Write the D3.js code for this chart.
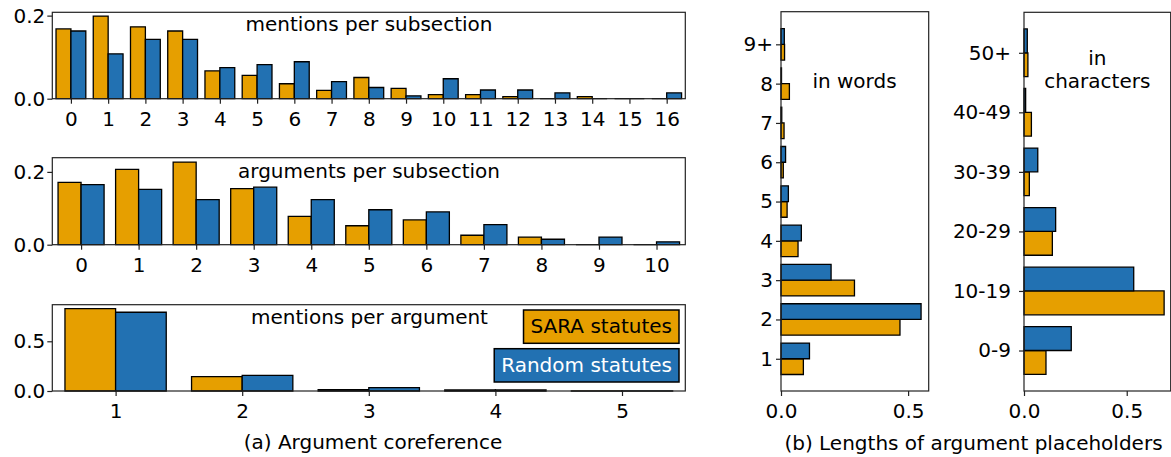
<!DOCTYPE html>
<html>
<head>
<meta charset="utf-8">
<script src="https://cdn.jsdelivr.net/npm/d3@7"></script>
<style>
  body { margin: 0; background: #fff; }
  svg text { font-family: "DejaVu Sans", sans-serif; font-size: 20px; fill: #000; }
  .frame { fill: none; stroke: #222; stroke-width: 1.2; }
  .bar { stroke: #000; stroke-width: 1.3; }
  .axis .domain { display: none; }
  .axis line { stroke: #222; stroke-width: 1.2; }
</style>
</head>
<body>
<div id="chart"></div>
<script>
// (a) Argument coreference -- relative frequencies
const mentionsSubCats = d3.range(0, 17);
const mentionsSubSara = [0.168, 0.199, 0.173, 0.163, 0.067, 0.056, 0.036, 0.020, 0.051, 0.025, 0.010, 0.010, 0.005, 0.000, 0.005, 0.000, 0.000];
const mentionsSubRand = [0.163, 0.108, 0.143, 0.143, 0.075, 0.082, 0.089, 0.041, 0.027, 0.007, 0.048, 0.021, 0.021, 0.014, 0.000, 0.000, 0.014];

const argsSubCats = d3.range(0, 11);
const argsSubSara = [0.171, 0.207, 0.227, 0.154, 0.078, 0.052, 0.068, 0.026, 0.021, 0.000, 0.000];
const argsSubRand = [0.165, 0.152, 0.124, 0.158, 0.124, 0.096, 0.090, 0.055, 0.015, 0.021, 0.008];

const mentionsArgCats = [1, 2, 3, 4, 5];
const mentionsArgSara = [0.829, 0.144, 0.013, 0.010, 0.002];
const mentionsArgRand = [0.792, 0.158, 0.034, 0.010, 0.002];

// (b) Lengths of argument placeholders
const wordLabels = ["1", "2", "3", "4", "5", "6", "7", "8", "9+"];
const wordSara = [0.088, 0.468, 0.289, 0.067, 0.024, 0.009, 0.012, 0.033, 0.014];
const wordRand = [0.112, 0.551, 0.197, 0.080, 0.029, 0.018, 0.003, 0.002, 0.013];

const charLabels = ["0-9", "10-19", "20-29", "30-39", "40-49", "50+"];
const charSara = [0.107, 0.682, 0.138, 0.026, 0.036, 0.019];
const charRand = [0.230, 0.534, 0.154, 0.067, 0.008, 0.016];

const seriesNames = ["SARA statutes", "Random statutes"];
const colors = ["#E69F00", "#2271B2"];

const width = 1171, height = 457;
const svg = d3.select("#chart").append("svg")
  .attr("width", width).attr("height", height);

const fmt = d3.format(".1f");

function barPath(x0, x1, y0, y1) {
  return `M${x0},${y0}H${x1}V${y1}H${x0}Z`;
}

// vertical grouped bars, SARA left of tick, Random right of tick
function drawVPanel(p) {
  const x = d3.scaleLinear().domain(p.xDomain).range([p.left, p.right]);
  const y = d3.scaleLinear().domain(p.yDomain).range([p.bottom, p.top]);
  const g = svg.append("g");

  [p.sara, p.rand].forEach((vals, s) => {
    g.selectAll(null).data(p.cats).enter().append("path")
      .attr("class", "bar")
      .style("fill", colors[s])
      .attr("d", (c, i) => s === 0
        ? barPath(x(c - 0.4), x(c), y(0), y(vals[i]))
        : barPath(x(c), x(c + 0.4), y(0), y(vals[i])));
  });

  g.append("rect").attr("class", "frame")
    .attr("x", p.left).attr("y", p.top)
    .attr("width", p.right - p.left).attr("height", p.bottom - p.top);

  g.append("g").attr("class", "axis")
    .attr("transform", `translate(0,${p.bottom})`)
    .call(d3.axisBottom(x).tickValues(p.cats).tickSize(5).tickPadding(8).tickFormat(d3.format("d")));

  g.append("g").attr("class", "axis")
    .attr("transform", `translate(${p.left},0)`)
    .call(d3.axisLeft(y).tickValues(p.yTicks).tickSize(5).tickPadding(2).tickFormat(fmt));

  g.selectAll(".axis text").attr("fill", "#000").style("font-size", "20px")
    .style("font-family", "DejaVu Sans");

  g.append("text")
    .attr("x", p.titleX).attr("y", p.titleY)
    .attr("text-anchor", "middle")
    .text(p.title);
  return { x, y, g };
}

// horizontal grouped bars, Random above tick, SARA below
function drawHPanel(p) {
  const x = d3.scaleLinear().domain(p.xDomain).range([p.left, p.right]);
  const idx = d3.range(p.labels.length);
  const y = d3.scaleLinear().domain(p.yDomain).range([p.bottom, p.top]);
  const g = svg.append("g");

  [p.sara, p.rand].forEach((vals, s) => {
    g.selectAll(null).data(idx).enter().append("path")
      .attr("class", "bar")
      .style("fill", colors[s])
      .attr("d", i => s === 0
        ? barPath(x(0), x(vals[i]), y(i), y(i - 0.4))
        : barPath(x(0), x(vals[i]), y(i + 0.4), y(i)));
  });

  g.append("rect").attr("class", "frame")
    .attr("x", p.left).attr("y", p.top)
    .attr("width", p.right - p.left).attr("height", p.bottom - p.top);

  g.append("g").attr("class", "axis")
    .attr("transform", `translate(0,${p.bottom})`)
    .call(d3.axisBottom(x).tickValues(p.xTicks).tickSize(5).tickPadding(8).tickFormat(fmt));

  g.append("g").attr("class", "axis")
    .attr("transform", `translate(${p.left},0)`)
    .call(d3.axisLeft(y).tickValues(idx).tickSize(5).tickPadding(p.yPad).tickFormat(i => p.labels[i]));

  g.selectAll(".axis text").attr("fill", "#000").style("font-size", "20px")
    .style("font-family", "DejaVu Sans");

  const t = g.append("text")
    .attr("x", p.titleX).attr("y", p.titleY)
    .attr("text-anchor", "middle");
  p.title.forEach((line, k) => {
    t.append("tspan").attr("x", p.titleX).attr("dy", k === 0 ? 0 : 22.7).text(line);
  });
}

drawVPanel({
  cats: mentionsSubCats, sara: mentionsSubSara, rand: mentionsSubRand,
  xDomain: [-0.5, 16.5], yDomain: [0, 0.208], yTicks: [0, 0.2],
  left: 52.3, right: 685.3, top: 12.3, bottom: 98.7,
  title: "mentions per subsection", titleX: 369, titleY: 31
});

drawVPanel({
  cats: argsSubCats, sara: argsSubSara, rand: argsSubRand,
  xDomain: [-0.5, 10.5], yDomain: [0, 0.239], yTicks: [0, 0.2],
  left: 52.3, right: 685.3, top: 157.7, bottom: 244.7,
  title: "arguments per subsection", titleX: 369, titleY: 178
});

const p3 = drawVPanel({
  cats: mentionsArgCats, sara: mentionsArgSara, rand: mentionsArgRand,
  xDomain: [0.5, 5.5], yDomain: [0, 0.868], yTicks: [0, 0.5],
  left: 52.3, right: 685.3, top: 304.7, bottom: 391,
  title: "mentions per argument", titleX: 369.5, titleY: 324
});

// legend-like labelled boxes in the third panel
const legendBaselines = [333, 371.7];
seriesNames.forEach((name, s) => {
  const lg = p3.g.append("g");
  const txt = lg.append("text")
    .attr("x", 672).attr("y", legendBaselines[s])
    .attr("text-anchor", "end")
    .style("fill", s === 0 ? "#000" : "#fff")
    .text(name);
  const w = txt.node().getComputedTextLength();
  lg.insert("rect", "text")
    .attr("x", 672 - w - 7).attr("y", legendBaselines[s] - 23)
    .attr("width", w + 14).attr("height", 33.3)
    .style("fill", colors[s]).style("stroke", "#000").style("stroke-width", 1.5);
});

drawHPanel({
  labels: wordLabels, sara: wordSara, rand: wordRand,
  xDomain: [0, 0.581], xTicks: [0, 0.5], yDomain: [-0.82, 8.83], yPad: 3,
  left: 781, right: 928.7, top: 11.7, bottom: 391,
  title: ["in words"], titleX: 854.5, titleY: 88
});

drawHPanel({
  labels: charLabels, sara: charSara, rand: charRand,
  xDomain: [0, 0.714], xTicks: [0, 0.5], yDomain: [-0.68, 5.68], yPad: 8,
  left: 1024, right: 1170.7, top: 12.3, bottom: 391,
  title: ["in", "characters"], titleX: 1097.3, titleY: 65
});

// sub-figure captions
svg.append("text").attr("x", 373).attr("y", 449).attr("text-anchor", "middle")
  .text("(a) Argument coreference");
svg.append("text").attr("x", 973.5).attr("y", 450).attr("text-anchor", "middle")
  .text("(b) Lengths of argument placeholders");
</script>
</body>
</html>
